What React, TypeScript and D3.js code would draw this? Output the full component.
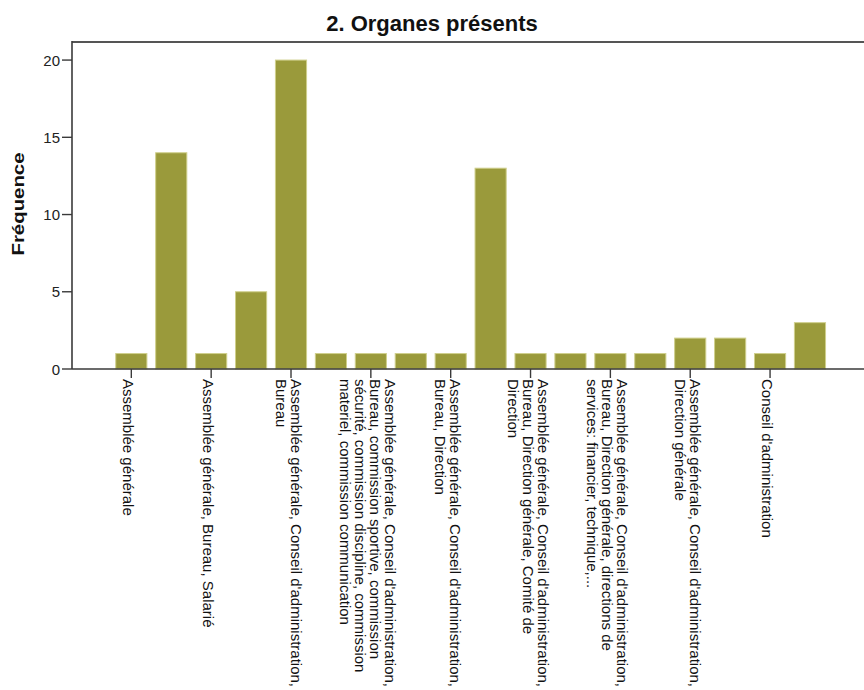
import React from "react";
import * as d3 from "d3";

const title = "2. Organes présents";
const yAxisTitle = "Fréquence";
const frequencies = [1, 14, 1, 5, 20, 1, 1, 1, 1, 13, 1, 1, 1, 1, 2, 2, 1, 3];
const categoryLabels: string[][] = [
  ["Assemblée générale"],
  [],
  ["Assemblée générale, Bureau, Salarié"],
  [],
  ["Assemblée générale, Conseil d'administration,", "Bureau"],
  [],
  [
    "Assemblée générale, Conseil d'administration,",
    "Bureau, commission sportive, commission",
    "sécurité, commission discipline, commission",
    "materiel, commission communication",
  ],
  [],
  ["Assemblée générale, Conseil d'administration,", "Bureau, Direction"],
  [],
  [
    "Assemblée générale, Conseil d'administration,",
    "Bureau, Direction générale, Comité de",
    "Direction",
  ],
  [],
  [
    "Assemblée générale, Conseil d'administration,",
    "Bureau, Direction générale, directions de",
    "services: financier, technique,...",
  ],
  [],
  ["Assemblée générale, Conseil d'administration,", "Direction générale"],
  [],
  ["Conseil d'administration"],
  [],
];
const yTicks = [0, 5, 10, 15, 20];

const W = 864;
const H = 690;
const FONT = "'Liberation Sans', Arial, sans-serif";

export default function App() {
  const plotLeft = 72;
  const plotTop = 42;
  const plotBottom = 369;
  const plotRight = 866;

  const idx = categoryLabels.map((_, i) => i);
  const x = d3
    .scaleBand<number>()
    .domain(idx)
    .range([91.8, 849.5])
    .paddingInner(0.22)
    .paddingOuter(0.6);
  const y = d3.scaleLinear().domain([0, 21.17]).range([plotBottom, plotTop]);

  const barFill = "#9a9a3b";
  const barStroke = "#cfcf8c";
  const axisColor = "#3a3a3a";

  return (
    <svg
      width={W}
      height={H}
      style={{ position: "fixed", left: 0, top: 0, background: "#fff" }}
      fontFamily={FONT}
    >
      <rect x={0} y={0} width={W} height={H} fill="#ffffff" />
      <text x={432} y={31} textAnchor="middle" fontSize={22} fontWeight="bold" fill="#111">
        {title}
      </text>

      {/* frame */}
      <line x1={plotLeft} x2={plotRight} y1={plotTop} y2={plotTop} stroke="#555" strokeWidth={2} />

      {/* bars */}
      {frequencies.map((v, i) => (
        <rect
          key={i}
          x={x(i)!}
          y={y(v)}
          width={x.bandwidth()}
          height={plotBottom - y(v)}
          fill={barFill}
          stroke={barStroke}
          strokeWidth={1}
        />
      ))}

      {/* axes */}
      <line x1={plotLeft} x2={plotLeft} y1={plotTop - 1} y2={plotBottom} stroke={axisColor} strokeWidth={1.6} />
      <line x1={plotLeft} x2={plotRight} y1={plotBottom} y2={plotBottom} stroke={axisColor} strokeWidth={1.6} />

      {yTicks.map((t) => (
        <g key={t}>
          <line x1={plotLeft - 10} x2={plotLeft} y1={y(t)} y2={y(t)} stroke={axisColor} strokeWidth={1.4} />
          <text
            x={plotLeft - 12}
            y={y(t)}
            textAnchor="end"
            dominantBaseline="central"
            fontSize={15}
            fill="#222"
          >
            {t}
          </text>
        </g>
      ))}

      <text
        transform="translate(18,204) rotate(-90) scale(1.2,1)"
        textAnchor="middle"
        dominantBaseline="central"
        fontSize={17}
        fontWeight="bold"
        fill="#111"
      >
        {yAxisTitle}
      </text>

      {/* x ticks and labels */}
      {categoryLabels.map((lines, i) => {
        if (lines.length === 0) return null;
        const cx = x(i)! + x.bandwidth() / 2;
        const n = lines.length;
        return (
          <g key={i}>
            <line x1={cx} x2={cx} y1={plotBottom} y2={plotBottom + 9} stroke={axisColor} strokeWidth={1.4} />
            <g transform={`translate(${cx},${plotBottom + 10}) rotate(90)`}>
              {lines.map((ln, j) => (
                <text
                  key={j}
                  x={0}
                  y={(j - (n - 1) / 2) * 15 + 2.5}
                  dominantBaseline="central"
                  fontSize={15}
                  fill="#111"
                >
                  {ln}
                </text>
              ))}
            </g>
          </g>
        );
      })}
    </svg>
  );
}
